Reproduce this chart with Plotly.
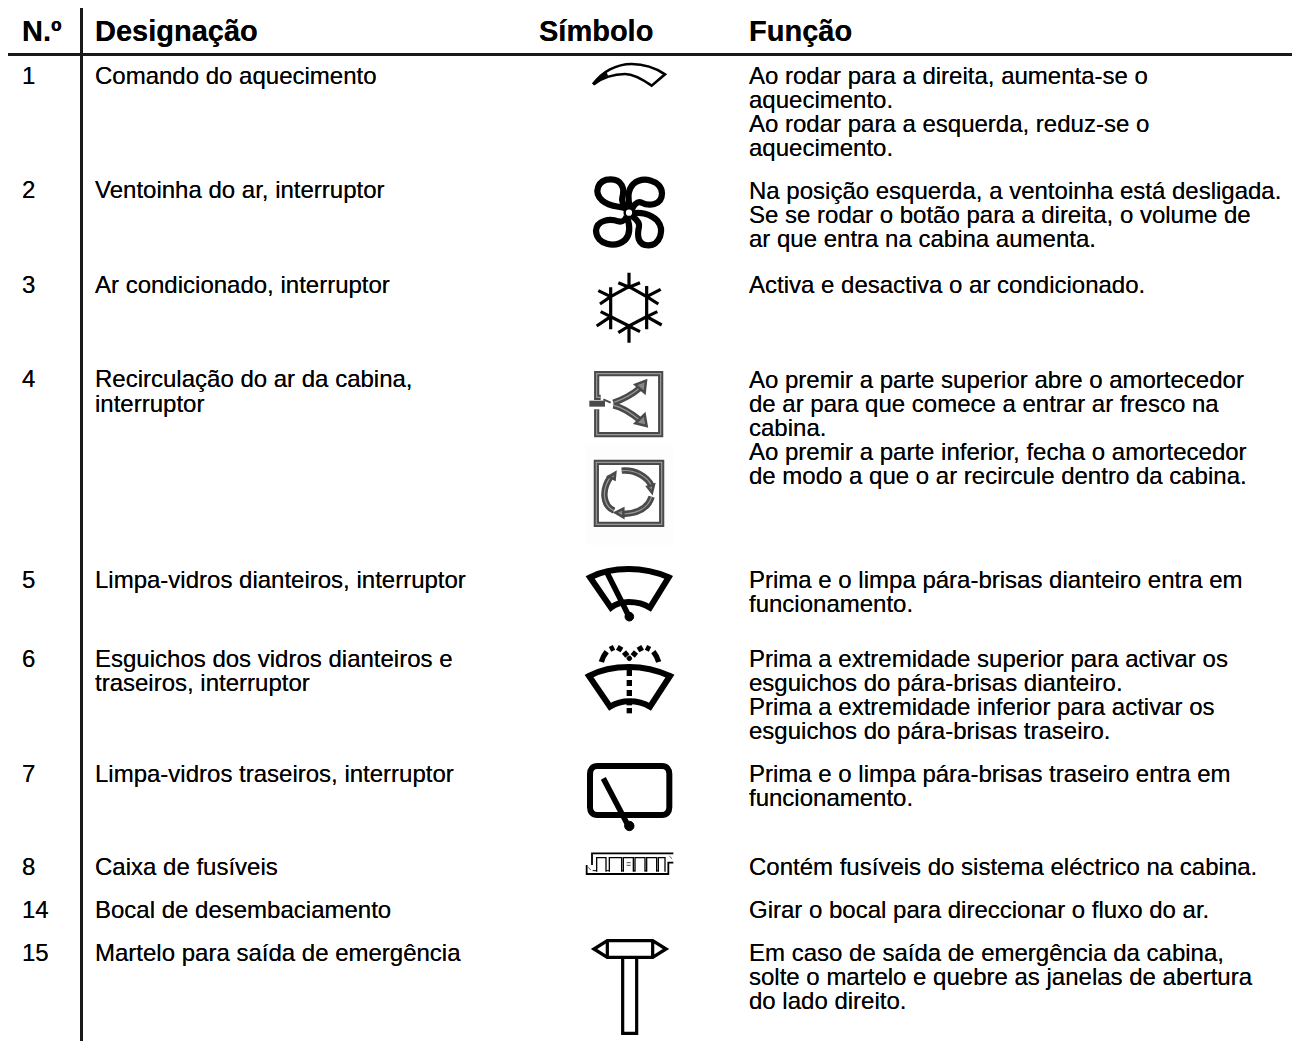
import re
import plotly.graph_objects as go

FONT = "Liberation Sans"

header_labels = ["N.º", "Designação", "Símbolo", "Função"]
header_x = [22, 95, 539, 749]
header_y = [34, 34, 34, 34]

number_labels = ["1", "2", "3", "4", "5", "6", "7", "8", "14", "15"]
number_y = [78, 192, 287, 381, 582, 661, 776, 869, 912, 955]

name_lines = [
    "Comando do aquecimento", "Ventoinha do ar, interruptor", "Ar condicionado, interruptor",
    "Recirculação do ar da cabina,", "interruptor", "Limpa-vidros dianteiros, interruptor",
    "Esguichos dos vidros dianteiros e", "traseiros, interruptor",
    "Limpa-vidros traseiros, interruptor", "Caixa de fusíveis",
    "Bocal de desembaciamento", "Martelo para saída de emergência",
]
name_y = [78, 192, 287, 381, 406, 582, 661, 685, 776, 869, 912, 955]

function_lines = [
    "Ao rodar para a direita, aumenta-se o", "aquecimento.",
    "Ao rodar para a esquerda, reduz-se o", "aquecimento.",
    "Na posição esquerda, a ventoinha está desligada.",
    "Se se rodar o botão para a direita, o volume de",
    "ar que entra na cabina aumenta.",
    "Activa e desactiva o ar condicionado.",
    "Ao premir a parte superior abre o amortecedor",
    "de ar para que comece a entrar ar fresco na", "cabina.",
    "Ao premir a parte inferior, fecha o amortecedor",
    "de modo a que o ar recircule dentro da cabina.",
    "Prima e o limpa pára-brisas dianteiro entra em", "funcionamento.",
    "Prima a extremidade superior para activar os",
    "esguichos do pára-brisas dianteiro.",
    "Prima a extremidade inferior para activar os",
    "esguichos do pára-brisas traseiro.",
    "Prima e o limpa pára-brisas traseiro entra em", "funcionamento.",
    "Contém fusíveis do sistema eléctrico na cabina.",
    "Girar o bocal para direccionar o fluxo do ar.",
    "Em caso de saída de emergência da cabina,",
    "solte o martelo e quebre as janelas de abertura",
    "do lado direito.",
]
function_y = [78, 102, 126, 150, 193, 217, 241, 287, 382, 406, 430, 454, 478,
              582, 606, 661, 685, 709, 733, 776, 800, 869, 912, 955, 979, 1003]


def zp(path, ox, oy):
    """Convert a path written in 3x crop coordinates to page coordinates."""
    tokens = re.findall(r"[A-Za-z]|-?\d+\.?\d*", path)
    out, i_num = [], 0
    for t in tokens:
        if t.isalpha():
            out.append(t)
        else:
            v = float(t) / 3 + (ox if i_num % 2 == 0 else oy)
            out.append(f"{v:.2f}")
            i_num += 1
    return " ".join(out)


shapes = []


def stroke(path, o, width=2.0, color="#000", fill=None):
    s = dict(type="path", path=zp(path, *o), xref="x", yref="y", layer="above",
             line=dict(color=color, width=width))
    s["fillcolor"] = fill if fill else "rgba(0,0,0,0)"
    shapes.append(s)


def circle_path(cx, cy, r):
    return (f"M {cx-r},{cy} C {cx-r},{cy-r*0.55} {cx-r*0.55},{cy-r} {cx},{cy-r} "
            f"C {cx+r*0.55},{cy-r} {cx+r},{cy-r*0.55} {cx+r},{cy} "
            f"C {cx+r},{cy+r*0.55} {cx+r*0.55},{cy+r} {cx},{cy+r} "
            f"C {cx-r*0.55},{cy+r} {cx-r},{cy+r*0.55} {cx-r},{cy} Z")


# rules of the table
shapes.append(dict(type="line", x0=8, x1=1292, y0=54.5, y1=54.5, xref="x", yref="y",
                   line=dict(color="#1a1a1a", width=3)))
shapes.append(dict(type="line", x0=81.5, x1=81.5, y0=8, y1=1041, xref="x", yref="y",
                   line=dict(color="#1a1a1a", width=3)))

O1 = (570, 50)
O2 = (570, 360)
O3 = (570, 750)

# heating knob
stroke("M 70,103 C 95,65 140,42 185,42 C 225,42 260,56 285,73 L 245,107 "
       "C 215,86 190,72 165,72 C 130,72 95,85 70,103 Z", O1, 2.6)
stroke("M 70,103 C 80,90 95,80 112,72", O1, 3.4)

# fan
for p in [
    "M 168,476 C 150,468 120,472 97,452 C 70,428 82,388 122,388 C 155,388 165,415 157,442 C 153,458 165,470 172,476",
    "M 182,476 C 172,450 172,420 190,402 C 218,378 275,390 276,430 C 276,468 235,468 215,458 C 200,452 190,468 186,478",
    "M 188,490 C 210,486 240,490 262,512 C 285,540 270,586 235,586 C 205,586 200,560 207,530 C 210,515 195,505 186,498",
    "M 170,498 C 178,520 185,550 165,570 C 135,595 80,585 78,542 C 80,510 120,505 145,514 C 160,518 168,505 170,498",
]:
    stroke(p, O1, 6.2)
stroke(circle_path(177, 488, 13), O1, 2.4, fill="#fff")

# snowflake
stroke("M 177,710 L 230,740 L 230,800 L 177,828 L 122,800 L 122,740 Z", O1, 3.2)
for p in [
    "M 177,710 L 177,668 M 145,698 L 177,712 L 210,698",
    "M 230,740 L 272,718 M 230,708 L 230,740 L 265,762",
    "M 230,800 L 275,825 M 230,838 L 230,800 L 262,785",
    "M 177,828 L 177,878 M 145,848 L 177,828 L 210,845",
    "M 122,800 L 80,828 M 122,838 L 122,800 L 92,785",
    "M 122,740 L 85,722 M 122,712 L 122,740 L 90,762",
]:
    stroke(p, O1, 3.2)

# fresh air box
box_dark, box_light = "#4a4a4a", "#999"
stroke("M 92,112 L 80,112 L 80,41 L 272,41 L 272,224 L 80,224 L 80,148", O2, 5.2, box_dark)
stroke("M 92,112 L 80,112 L 80,41 L 272,41 L 272,224 L 80,224 L 80,148", O2, 1.2, box_light)
stroke("M 58,131 L 105,131", O2, 6, box_dark)
stroke("M 100,118 L 122,128", O2, 2, box_dark)
for p in ["M 130,128 C 160,118 185,105 212,82", "M 130,136 C 160,142 185,160 212,182"]:
    stroke(p, O2, 6.4, box_dark)
    stroke(p, O2, 1.2, box_light)
stroke("M 196,74 L 228,62 L 224,98 Z", O2, 2.5, box_dark, "#888")
stroke("M 196,190 L 230,198 L 224,163 Z", O2, 2.5, box_dark, "#888")

# recirculation box
shapes.append(dict(type="rect", x0=585, x1=674, y0=445, y1=545, xref="x", yref="y", layer="below",
                   line=dict(width=0), fillcolor="#fdfdfd"))
stroke("M 79,307 L 275,307 L 275,493 L 79,493 Z", O2, 5.2, box_dark, "#fff")
stroke("M 79,307 L 275,307 L 275,493 L 79,493 Z", O2, 1.2, box_light)
for p in ["M 155,332 C 195,328 232,350 245,378",
          "M 245,410 C 235,442 205,460 160,462",
          "M 132,452 C 100,438 92,392 122,350"]:
    stroke(p, O2, 6.4, box_dark)
    stroke(p, O2, 1.2, box_light)
stroke("M 116,350 L 136,338 L 134,358 Z", O2, 2.5, box_dark, "#888")
stroke("M 232,380 L 252,374 L 246,398 Z", O2, 2.5, box_dark, "#888")
stroke("M 160,446 L 136,458 L 160,472 Z", O2, 2.5, box_dark, "#888")

# front wiper
stroke("M 60,652 C 95,634 135,627 176,627 C 220,627 260,636 296,652 L 240,743 "
       "C 220,730 195,726 176,726 C 155,726 140,730 123,743 Z", O2, 6)
stroke("M 112,640 L 160,735 L 176,768", O2, 5.6)
stroke(circle_path(178, 770, 13), O2, 1, fill="#000")

# washer
stroke("M 57,948 C 90,930 135,921 178,921 C 220,921 260,930 300,948 L 240,1040 "
       "C 220,1028 195,1024 178,1024 C 155,1024 140,1028 120,1040 Z", O2, 6)
for p in ["M 178,930 L 178,948", "M 178,960 L 178,978", "M 178,990 L 178,1008",
          "M 178,1020 L 178,1036", "M 178,1044 L 178,1060",
          "M 94,906 C 98,892 102,885 110,875", "M 120,868 L 132,862", "M 142,862 L 156,870",
          "M 162,876 L 172,888", "M 266,906 C 262,892 258,885 250,875", "M 240,868 L 228,862",
          "M 218,862 L 204,870", "M 198,876 L 188,888"]:
    stroke(p, O2, 5.4)
stroke(circle_path(178, 895, 7), O2, 1, fill="#000")

# rear wiper
stroke("M 82,48 L 276,48 C 290,48 298,58 298,72 L 298,172 C 298,186 290,195 276,195 "
       "L 82,195 C 68,195 60,186 60,172 L 60,72 C 60,58 68,48 82,48 Z", O3, 6)
stroke("M 100,85 L 175,228", O3, 5.6)
stroke(circle_path(178, 228, 14), O3, 1, fill="#000")

# fuse box
stroke("M 50,345 L 50,372 L 295,372 L 295,338 L 310,338 M 66,345 L 66,310 L 310,310", O3, 1.8)
for slot_x0, slot_x1 in [(80, 108), (118, 155), (160, 190), (195, 225), (230, 260), (265, 285)]:
    stroke(f"M {slot_x0},365 L {slot_x0},323 L {slot_x1},323 L {slot_x1},365", O3, 1.3)
stroke("M 68,362 L 80,362 M 108,362 L 118,362 M 155,362 L 160,362 M 190,362 L 195,362 "
       "M 225,362 L 230,362 M 260,362 L 265,362", O3, 1.0)
stroke("M 170,338 L 182,338 M 170,346 L 182,346", O3, 1.0, "#555")
stroke("M 55,352 L 62,360 M 298,318 L 306,326", O3, 1.0, "#555")

# hammer
stroke("M 158,622 L 158,850 L 200,850 L 200,622", O3, 3.2)
stroke("M 112,572 L 248,572 L 288,597 L 248,622 L 112,622 L 72,597 Z", O3, 3.4)
stroke("M 112,572 L 112,622 M 248,572 L 248,622", O3, 3.2)

TEXT_SHADOW = "0 0 0.6px rgba(0,0,0,0.75)"
fig = go.Figure()
fig.add_trace(go.Scatter(x=header_x, y=header_y, text=header_labels, mode="text",
                         textposition="middle right", hoverinfo="skip",
                         textfont=dict(family=FONT, size=29, color="#000",
                                       weight="bold", shadow=TEXT_SHADOW)))
body_size = 24
for xs, ys, labels in [([22] * len(number_labels), number_y, number_labels),
                       ([95] * len(name_lines), name_y, name_lines),
                       ([749] * len(function_lines), function_y, function_lines)]:
    fig.add_trace(go.Scatter(x=xs, y=ys, text=labels, mode="text",
                             textposition="middle right", hoverinfo="skip",
                             textfont=dict(family=FONT, size=body_size, color="#000",
                                           shadow=TEXT_SHADOW)))

fig.update_layout(
    width=1292, height=1041, margin=dict(l=0, r=0, t=0, b=0),
    paper_bgcolor="#fff", plot_bgcolor="#fff", showlegend=False, shapes=shapes,
    xaxis=dict(range=[0, 1292], visible=False, fixedrange=True),
    yaxis=dict(range=[1041, 0], visible=False, fixedrange=True),
)
fig.write_html("out.html", config={"displayModeBar": False},
               post_script="document.body.style.margin='0';document.body.style.overflow='hidden';")
